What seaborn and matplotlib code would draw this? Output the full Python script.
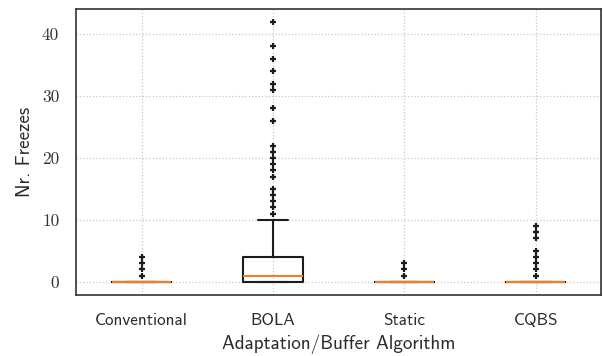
import numpy as np
import pandas as pd
import matplotlib
matplotlib.use("Agg")
import matplotlib.pyplot as plt
import seaborn as sns

# Data (value / count pairs per algorithm)
categories = ["Conventional", "BOLA", "Static", "CQBS"]
conv_values = [0, 1, 2, 3, 4]
conv_counts = [96, 1, 1, 1, 1]
bola_values = [0, 1, 2, 3, 4, 5, 6, 7, 9, 10,
               11, 12, 13, 14, 15, 17, 18, 19, 20, 21, 22,
               26, 28, 31, 32, 34, 36, 38, 42]
bola_counts = [36, 20, 10, 6, 4, 1, 1, 1, 1, 1,
               1, 1, 1, 1, 1, 1, 1, 1, 1, 1, 1,
               1, 1, 1, 1, 1, 1, 1, 1]
static_values = [0, 1, 2, 3]
static_counts = [97, 1, 1, 1]
cqbs_values = [0, 1, 2, 3, 4, 5, 7, 8, 9]
cqbs_counts = [92, 1, 1, 1, 1, 1, 1, 1, 1]
y_ticks = [0, 10, 20, 30, 40]

series = {
    "Conventional": (conv_values, conv_counts),
    "BOLA": (bola_values, bola_counts),
    "Static": (static_values, static_counts),
    "CQBS": (cqbs_values, cqbs_counts),
}
rows = []
for cat in categories:
    vals, cnts = series[cat]
    for v in np.repeat(vals, cnts):
        rows.append((cat, v))
df = pd.DataFrame(rows, columns=["alg", "freezes"])

sns.set_style("white")
plt.rcParams["axes.formatter.use_mathtext"] = True

fig = plt.figure(figsize=(6.03, 3.56), dpi=100)
ax = fig.add_axes([0.126, 0.172, 0.8715, 0.8035])

line_color = "#1c1c1c"
sns.boxplot(
    data=df, x="alg", y="freezes", order=categories, ax=ax,
    fill=False, color=line_color, linewidth=1.5, width=0.45,
    medianprops=dict(color="#f07f2a", linewidth=1.5),
    flierprops=dict(marker="+", markersize=5, markeredgewidth=1.6,
                    markeredgecolor=line_color, markerfacecolor=line_color),
)

ax.set_xlim(-0.5, 3.5)
ax.set_ylim(-2.1, 44.1)
ax.set_yticks(y_ticks)
ax.set_yticklabels([str(t) for t in y_ticks], fontfamily="cmr10", fontsize=12.5,
                   color="#333333")
ax.set_xticks(range(len(categories)))
ax.set_xticklabels(categories, fontfamily="cmss10", fontsize=12.3, color="#2a2a2a")
ax.tick_params(axis="both", direction="out", length=5, width=1.2,
               color="#333333")
ax.tick_params(axis="x", pad=8)
ax.tick_params(axis="y", pad=7)
ax.set_axisbelow(True)
ax.grid(True, linestyle=":", color="#c8c8c8", linewidth=0.9)
for s in ax.spines.values():
    s.set_visible(True)
    s.set_color("#333333")
    s.set_linewidth(1.2)

ax.set_xlabel("Adaptation/Buffer Algorithm", fontfamily="cmss10", fontsize=13.8,
              color="#2a2a2a", labelpad=5)
ax.set_ylabel("Nr. Freezes", fontfamily="cmss10", fontsize=13.8,
              color="#2a2a2a", labelpad=6)

fig.savefig("out.png", dpi=100)
